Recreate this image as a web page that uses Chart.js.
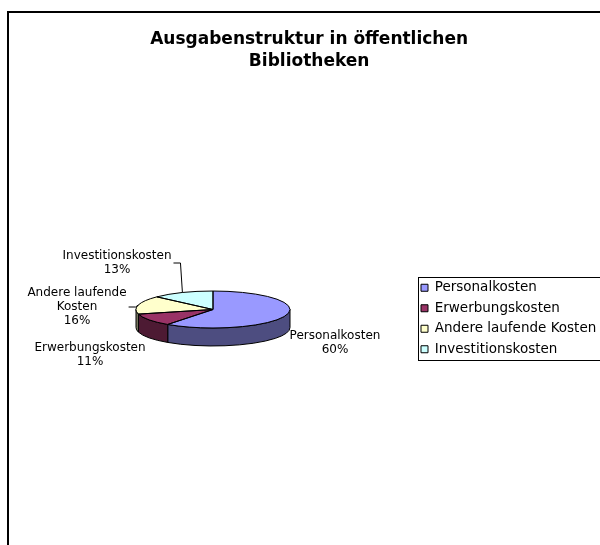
<!DOCTYPE html>
<html>
<head>
<meta charset="utf-8">
<script src="https://cdn.jsdelivr.net/npm/chart.js@4/dist/chart.umd.min.js"></script>
<style>
  html, body { margin: 0; padding: 0; background: #fff; overflow: hidden; }
  canvas { display: block; }
</style>
</head>
<body>
<canvas id="myChart" width="620" height="560"></canvas>
<script>
// data
const titulo = ['Ausgabenstruktur in öffentlichen', 'Bibliotheken'];
const categorias = ['Personalkosten', 'Erwerbungskosten', 'Andere laufende Kosten', 'Investitionskosten'];
const anteile = [60, 11, 16, 13];

// colores (cara superior / lado)
const colorTop = ['#9999FF', '#993366', '#FFFFCC', '#CCFFFF'];
const colorSide = ['#4D4D80', '#4D1A33', '#808066', '#668080'];

// layout
const FAMILY = "'DejaVu Sans', Verdana, sans-serif";
const PIE_CX = 213;      // centro del pastel
const LEGEND_X = 414;    // borde izq. de la leyenda
const RX = 77;           // radio horizontal
const SQUASH = 0.24;     // ry / rx
const DEPTH = 18;        // alto del pastel 3d
const LABEL_SIZE = 12, LABEL_LH = 14;
const LEGEND_SIZE = 13.5;
// posicion de etiquetas respecto al centro de la cara superior
const labelPos = [[122, 33.5], [-123, 45], [-136, -3], [-96, -47]];
const leader = [false, false, true, true];

// ancho de la leyenda para que quede donde toca
const mctx = document.createElement('canvas').getContext('2d');
mctx.font = LEGEND_SIZE + "px " + FAMILY;
const maxText = Math.max(...categorias.map(c => mctx.measureText(c).width));
const legendW = 7 + 7 + LEGEND_SIZE / 2 + maxText + 10;
const padLeft = 2 * PIE_CX - LEGEND_X;
const padRight = Math.max(0, 620 - LEGEND_X - legendW);

function wrap(ctx, text, maxW) {
  const words = text.split(' ');
  const out = [];
  let line = '';
  words.forEach(w => {
    const test = line ? line + ' ' + w : w;
    if (line && ctx.measureText(test).width > maxW) { out.push(line); line = w; }
    else line = test;
  });
  out.push(line);
  return out;
}

// pastel 3d: lados + cara superior aplastada
const pie3d = {
  id: 'pie3d',
  beforeDatasetsDraw(chart) {
    const ctx = chart.ctx;
    const arcs = chart.getDatasetMeta(0).data;
    const cx = arcs[0].x, cy0 = arcs[0].y;
    const rx = arcs[0].outerRadius, ry = rx * SQUASH;
    const top = cy0 - DEPTH / 2;
    arcs.forEach((a, i) => {
      const a1 = Math.max(a.startAngle, 0), a2 = Math.min(a.endAngle, Math.PI);
      if (a2 <= a1) return;
      ctx.beginPath();
      ctx.ellipse(cx, top, rx, ry, 0, a1, a2);
      ctx.ellipse(cx, top + DEPTH, rx, ry, 0, a2, a1, true);
      ctx.closePath();
      ctx.fillStyle = colorSide[i];
      ctx.fill();
      ctx.lineWidth = 1;
      ctx.strokeStyle = '#000';
      ctx.stroke();
    });
    ctx.save();
    ctx.translate(cx, top);
    ctx.scale(1, ry / rx);
    ctx.translate(-cx, -cy0);
  },
  afterDatasetsDraw(chart) {
    const ctx = chart.ctx;
    ctx.restore();
    const arcs = chart.getDatasetMeta(0).data;
    const cx = arcs[0].x, cy0 = arcs[0].y;
    const rx = arcs[0].outerRadius, ry = rx * SQUASH;
    const top = cy0 - DEPTH / 2;
    const total = anteile.reduce((s, v) => s + v, 0);
    // bordes de la cara superior
    ctx.lineWidth = 1;
    ctx.strokeStyle = '#000';
    arcs.forEach(a => {
      ctx.beginPath();
      ctx.moveTo(cx, top);
      ctx.ellipse(cx, top, rx, ry, 0, a.startAngle, a.endAngle);
      ctx.closePath();
      ctx.stroke();
    });
    // etiquetas
    ctx.font = LABEL_SIZE + 'px ' + FAMILY;
    ctx.fillStyle = '#000';
    ctx.textAlign = 'center';
    ctx.textBaseline = 'middle';
    arcs.forEach((a, i) => {
      const lines = wrap(ctx, categorias[i], 115);
      lines.push(Math.round(anteile[i] / total * 100) + '%');
      const lx = cx + labelPos[i][0], ly = top + labelPos[i][1];
      const n = lines.length;
      let wmax = 0;
      lines.forEach((t, j) => {
        ctx.fillText(t, lx, ly + (j - (n - 1) / 2) * LABEL_LH);
        wmax = Math.max(wmax, ctx.measureText(t).width);
      });
      if (leader[i]) {
        const m = (a.startAngle + a.endAngle) / 2;
        const ex = cx + rx * Math.cos(m), ey = top + ry * Math.sin(m);
        const sx = lx + wmax / 2 + 2;
        ctx.beginPath();
        ctx.moveTo(sx, ly + 0.5);
        ctx.lineTo(sx + 7, ly + 0.5);
        ctx.lineTo(ex, ey);
        ctx.stroke();
      }
    });
  }
};

// marco del grafico y caja de la leyenda
const marco = {
  id: 'marco',
  afterDraw(chart) {
    const ctx = chart.ctx;
    ctx.save();
    ctx.strokeStyle = '#000';
    ctx.lineWidth = 2;
    ctx.beginPath();
    ctx.moveTo(8, chart.height + 10);
    ctx.lineTo(8, 12);
    ctx.lineTo(chart.width + 10, 12);
    ctx.stroke();
    const hb = chart.legend.legendHitBoxes;
    const l = Math.min(...hb.map(h => h.left)) - 3;
    const t = Math.min(...hb.map(h => h.top)) - 4.5;
    const b = Math.max(...hb.map(h => h.top + h.height)) + 3.5;
    ctx.lineWidth = 1;
    ctx.strokeRect(Math.round(l) + 0.5, Math.round(t) + 0.5, chart.width, Math.round(b - t));
    ctx.restore();
  }
};

// config
const config = {
  type: 'pie',
  data: {
    labels: categorias,
    datasets: [{
      data: anteile,
      backgroundColor: colorTop,
      borderWidth: 0,
      radius: RX,
      hoverOffset: 0
    }]
  },
  options: {
    responsive: false,
    animation: false,
    events: [],
    layout: { padding: { left: padLeft, right: padRight, top: 0, bottom: 6 } },
    plugins: {
      title: {
        display: true,
        text: titulo,
        color: '#000',
        font: { family: FAMILY, size: 17, weight: 'bold', lineHeight: '22px' },
        padding: { top: 29, bottom: 10 }
      },
      legend: {
        position: 'right',
        fullSize: false,
        labels: {
          font: { family: FAMILY, size: LEGEND_SIZE },
          color: '#000',
          boxWidth: 7,
          boxHeight: 7,
          padding: 7,
          generateLabels: (chart) => Chart.overrides.pie.plugins.legend.labels.generateLabels(chart)
            .map(it => Object.assign(it, { strokeStyle: '#000', lineWidth: 1 }))
        }
      },
      tooltip: { enabled: false }
    }
  },
  plugins: [pie3d, marco]
};

// render
const myChart = new Chart(document.getElementById('myChart'), config);
</script>
</body>
</html>
